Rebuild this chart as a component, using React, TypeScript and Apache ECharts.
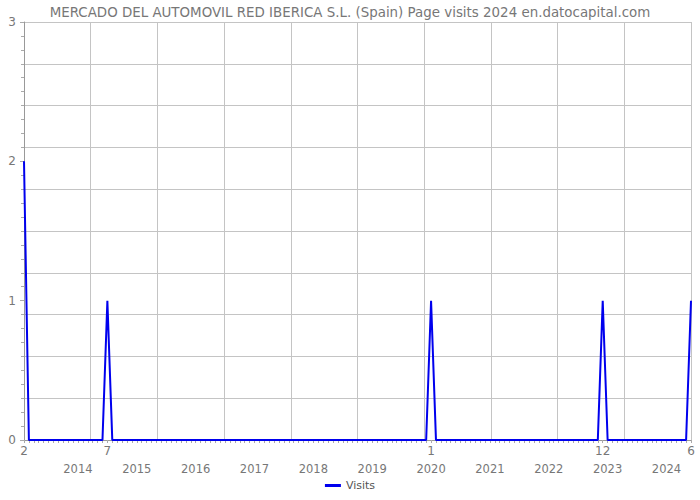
import React, { useEffect, useRef } from "react";
import * as echarts from "echarts";

const TITLE = "MERCADO DEL AUTOMOVIL RED IBERICA S.L. (Spain) Page visits 2024 en.datocapital.com";
const START_YEAR = 2013;
const START_MONTH = 2; // February
const SERIES_NAME = "Visits";

// monthly visits, Feb 2013 .. Jun 2024
const visits2013 = [2, 0, 0, 0, 0, 0, 0, 0, 0, 0, 0];
const visits2014 = [0, 0, 0, 0, 0, 0, 1, 0, 0, 0, 0, 0];
const visits2015 = [0, 0, 0, 0, 0, 0, 0, 0, 0, 0, 0, 0];
const visits2016 = [0, 0, 0, 0, 0, 0, 0, 0, 0, 0, 0, 0];
const visits2017 = [0, 0, 0, 0, 0, 0, 0, 0, 0, 0, 0, 0];
const visits2018 = [0, 0, 0, 0, 0, 0, 0, 0, 0, 0, 0, 0];
const visits2019 = [0, 0, 0, 0, 0, 0, 0, 0, 0, 0, 0, 0];
const visits2020 = [1, 0, 0, 0, 0, 0, 0, 0, 0, 0, 0, 0];
const visits2021 = [0, 0, 0, 0, 0, 0, 0, 0, 0, 0, 0, 0];
const visits2022 = [0, 0, 0, 0, 0, 0, 0, 0, 0, 0, 0, 1];
const visits2023 = [0, 0, 0, 0, 0, 0, 0, 0, 0, 0, 0, 0];
const visits2024 = [0, 0, 0, 0, 0, 1];

const yTickLabels = [0, 1, 2, 3];

export default function App() {
  const ref = useRef<HTMLDivElement>(null);
  useEffect(() => {
    if (!ref.current) return;
    const chart = echarts.init(ref.current, null, { renderer: "svg" });
    const values = [
      ...visits2013, ...visits2014, ...visits2015, ...visits2016, ...visits2017, ...visits2018,
      ...visits2019, ...visits2020, ...visits2021, ...visits2022, ...visits2023, ...visits2024,
    ];
    const months: { y: number; m: number }[] = [];
    for (let i = 0; i < values.length; i++) {
      const t = START_MONTH - 1 + i;
      months.push({ y: START_YEAR + Math.floor(t / 12), m: (t % 12) + 1 });
    }
    const cats = months.map((d) => `${d.y}-${d.m}`);
    const gray = "#999";
    const textColor = "#777";
    const font = "DejaVu Sans";
    chart.setOption({
      animation: false,
      title: {
        text: TITLE,
        left: "center",
        top: 1,
        textStyle: { fontFamily: font, fontSize: 13.4, fontWeight: "normal", color: "#777" },
      },
      legend: {
        bottom: 4,
        left: "center",
        icon: "rect",
        itemWidth: 16,
        itemHeight: 3,
        itemGap: 4,
        textStyle: { fontFamily: font, fontSize: 11, color: "#555" },
        data: [SERIES_NAME],
      },
      grid: { left: 24, right: 9, top: 22, bottom: 60, containLabel: false },
      xAxis: [
        {
          type: "category",
          data: cats,
          boundaryGap: false,
          axisLine: { show: true, lineStyle: { color: gray } },
          axisTick: { show: true, interval: 0, length: 3, lineStyle: { color: "#aaa" } },
          axisLabel: {
            interval: 0,
            margin: 5,
            fontFamily: font,
            fontSize: 12,
            color: textColor,
            formatter: (_v: string, i: number) => (values[i] ? String(months[i].m) : ""),
          },
          splitLine: { show: false },
        },
        {
          type: "category",
          data: cats,
          boundaryGap: false,
          position: "bottom",
          offset: 17,
          axisLine: { show: false },
          axisTick: { show: true, interval: 0, length: 2, lineStyle: { color: "#aaa" } },
          axisLabel: {
            interval: 0,
            margin: 6,
            fontFamily: font,
            fontSize: 11.5,
            color: textColor,
            formatter: (_v: string, i: number) => (months[i].m === 1 ? String(months[i].y) : ""),
          },
          splitLine: { show: false },
        },
        {
          type: "value",
          min: 0,
          max: 10,
          interval: 1,
          position: "top",
          axisLine: { show: false },
          axisTick: { show: false },
          axisLabel: { show: false },
          splitLine: { show: true, lineStyle: { color: "#c4c4c4" } },
        },
      ],
      yAxis: [
        {
          type: "value",
          min: 0,
          max: 3,
          interval: 1,
          axisLine: { show: true, lineStyle: { color: gray } },
          axisTick: { show: true, length: 4, lineStyle: { color: "#aaa" } },
          minorTick: { show: true, splitNumber: 10, length: 3, lineStyle: { color: "#aaa" } },
          axisLabel: {
            margin: 8,
            fontFamily: font,
            fontSize: 12,
            color: textColor,
            formatter: (v: number) => (yTickLabels.includes(v) ? String(v) : ""),
          },
          splitLine: { show: false },
        },
        {
          type: "value",
          min: 0,
          max: 10,
          interval: 1,
          position: "right",
          axisLine: { show: false },
          axisTick: { show: false },
          axisLabel: { show: false },
          splitLine: { show: true, lineStyle: { color: "#c4c4c4" } },
        },
      ],
      series: [
        {
          name: SERIES_NAME,
          type: "line",
          xAxisIndex: 0,
          yAxisIndex: 0,
          data: values,
          showSymbol: false,
          symbol: "none",
          lineStyle: { color: "#0000ee", width: 2 },
          itemStyle: { color: "#0000ee" },
          z: 5,
        },
      ],
    });
    return () => chart.dispose();
  }, []);
  return (
    <div
      ref={ref}
      style={{ position: "absolute", left: 0, top: 0, width: 700, height: 500 }}
    />
  );
}
